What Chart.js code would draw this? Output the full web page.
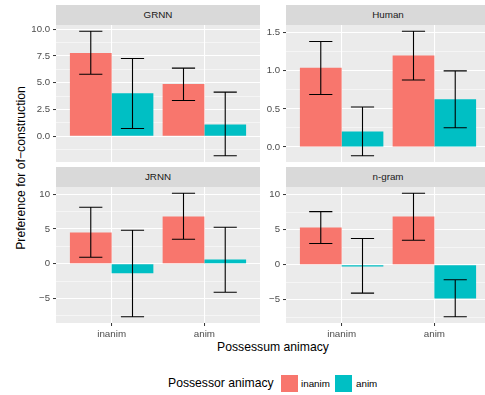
<!DOCTYPE html>
<html>
<head>
<meta charset="utf-8">
<script src="https://cdn.jsdelivr.net/npm/chart.js@4.4.1/dist/chart.umd.min.js"></script>
<style>
  html, body { margin: 0; padding: 0; background: #fff; }
  #fig { position: relative; width: 485px; height: 395px; overflow: hidden; font-family: "Liberation Sans", Arial, sans-serif; }
  #fig canvas { position: absolute; }
  .strip { position: absolute; height: 20px; background: #D9D9D9; color: #1A1A1A; font-size: 9.8px; line-height: 20px; text-align: center; }
  .title { position: absolute; font-size: 12.2px; color: #000; white-space: nowrap; }
  .key { position: absolute; width: 17px; height: 17px; }
  .klab { position: absolute; font-size: 9.8px; color: #000; line-height: 17px; }
</style>
</head>
<body>
<div id="fig">
  <div class="title" style="left:21px; top:168px; transform: translate(-50%,-50%) rotate(-90deg);">Preference for of−construction</div>
  <div class="title" style="left:273px; top:347px; transform: translate(-50%,-50%);">Possessum animacy</div>
  <div class="title" style="left:168px; top:383px; transform: translateY(-50%);">Possessor animacy</div>
  <div class="key" style="left:281px; top:375px; background:#F8766D;"></div>
  <div class="klab" style="left:301px; top:375px;">inanim</div>
  <div class="key" style="left:335px; top:375px; background:#00BFC4;"></div>
  <div class="klab" style="left:356px; top:375px;">anim</div>
</div>
<script>
'use strict';
// Facets (reading order) and the possessum categories on the x axis
const models = ['GRNN', 'Human', 'JRNN', 'n-gram'];
const possessum = ['inanim', 'anim'];
const possessor = ['inanim', 'anim'];
// Per facet: [possessum inanim, possessum anim]
const meanInanim = [[7.77, 4.88], [1.04, 1.20], [4.50, 6.80], [5.33, 6.90]];
const lowInanim  = [[5.79, 3.34], [0.69, 0.88], [0.95, 3.53], [3.04, 3.51]];
const highInanim = [[9.81, 6.36], [1.385, 1.52], [8.13, 10.15], [7.60, 10.23]];
const meanAnim   = [[4.03, 1.10], [0.203, 0.628], [-1.35, 0.62], [-0.24, -4.81]];
const lowAnim    = [[0.73, -1.82], [-0.115, 0.252], [-7.62, -4.08], [-4.05, -7.43]];
const highAnim   = [[7.26, 4.12], [0.526, 1.00], [4.83, 5.26], [3.76, -2.14]];
// y tick labels per facet
const yTicks = [[0, 2.5, 5, 7.5, 10], [0, 0.5, 1, 1.5], [-5, 0, 5, 10], [-5, 0, 5, 10]];
const yDecimals = [1, 1, 0, 0];

const colors = ['#F8766D', '#00BFC4'];
const fig = document.getElementById('fig');
const PAD = 6, YW = 30, XH = 20, PW = 204;
const panels = [
  {left: 56, top: 25, h: 137, bottom: false},
  {left: 286, top: 25, h: 137, bottom: false},
  {left: 56, top: 187, h: 136, bottom: true},
  {left: 286, top: 187, h: 136, bottom: true}
];

const panelBg = {
  id: 'panelBg',
  beforeDraw(chart) {
    const a = chart.chartArea, ctx = chart.ctx;
    ctx.save();
    ctx.fillStyle = '#EBEBEB';
    ctx.fillRect(a.left, a.top, a.right - a.left, a.bottom - a.top);
    ctx.restore();
  }
};

const errorBars = {
  id: 'errorBars',
  afterDatasetsDraw(chart) {
    const ctx = chart.ctx, xs = chart.scales.x, ys = chart.scales.y;
    const half = (xs.getPixelForValue(0.125) - xs.getPixelForValue(0));
    ctx.save();
    ctx.strokeStyle = '#000';
    ctx.lineWidth = 1.1;
    chart.data.datasets.forEach((ds, di) => {
      chart.getDatasetMeta(di).data.forEach((bar, i) => {
        const yl = ys.getPixelForValue(ds.low[i]);
        const yh = ys.getPixelForValue(ds.high[i]);
        ctx.beginPath();
        ctx.moveTo(bar.x, yl); ctx.lineTo(bar.x, yh);
        ctx.moveTo(bar.x - half, yl); ctx.lineTo(bar.x + half, yl);
        ctx.moveTo(bar.x - half, yh); ctx.lineTo(bar.x + half, yh);
        ctx.stroke();
      });
    });
    ctx.restore();
  }
};

function fmt(v, d) {
  const s = Math.abs(v).toFixed(d);
  return v < 0 ? '\u2212' + s : s;
}

models.forEach((name, k) => {
  const p = panels[k];
  const strip = document.createElement('div');
  strip.className = 'strip';
  strip.style.left = p.left + 'px';
  strip.style.top = (p.top - 20) + 'px';
  strip.style.width = PW + 'px';
  strip.textContent = name;
  fig.appendChild(strip);

  const canvas = document.createElement('canvas');
  const cw = YW + PW, ch = PAD + p.h + (p.bottom ? XH : 0);
  canvas.width = cw; canvas.height = ch;
  canvas.style.width = cw + 'px'; canvas.style.height = ch + 'px';
  canvas.style.left = (p.left - YW) + 'px';
  canvas.style.top = (p.top - PAD) + 'px';
  fig.appendChild(canvas);

  // y range like ggplot: data incl. zero, expanded by 5%
  const lows = lowInanim[k].concat(lowAnim[k], [0]);
  const highs = highInanim[k].concat(highAnim[k], [0]);
  const lo = Math.min(...lows), hi = Math.max(...highs);
  const ymin = lo - 0.05 * (hi - lo), ymax = hi + 0.05 * (hi - lo);
  const major = yTicks[k];
  const step = major[1] - major[0];
  const minor = [];
  for (let v = major[0] - step / 2; v <= ymax; v += step) if (v >= ymin) minor.push(v);
  const isMajor = v => major.some(m => Math.abs(m - v) < 1e-9);

  new Chart(canvas, {
    type: 'bar',
    data: {
      datasets: possessor.map((lab, j) => ({
        label: lab,
        data: possessum.map((c, i) => ({x: i + 1, y: (j ? meanAnim : meanInanim)[k][i]})),
        low: (j ? lowAnim : lowInanim)[k],
        high: (j ? highAnim : highInanim)[k],
        backgroundColor: colors[j],
        borderWidth: 0,
        categoryPercentage: 0.9,
        barPercentage: 1
      }))
    },
    options: {
      responsive: false,
      animation: false,
      events: [],
      layout: {padding: {top: PAD, left: 0, right: 0, bottom: 0}},
      plugins: {legend: {display: false}, tooltip: {enabled: false}},
      scales: {
        x: {
          type: 'linear',
          min: 0.4, max: 2.6,
          offset: false,
          afterBuildTicks: s => { s.ticks = possessum.map((c, i) => ({value: i + 1})); },
          afterFit: s => { s.height = p.bottom ? XH : 0; s.paddingLeft = 0; s.paddingRight = 0; },
          border: {display: false},
          grid: {offset: false, color: '#FFFFFF', lineWidth: 1.07, drawTicks: p.bottom, tickLength: 3, tickColor: '#333333', tickWidth: 1},
          ticks: {display: p.bottom, padding: 2, color: '#4D4D4D', font: {family: 'Liberation Sans', size: 9.8},
                  maxRotation: 0, autoSkip: false, callback: v => possessum[Math.round(v) - 1]}
        },
        y: {
          min: ymin, max: ymax,
          afterBuildTicks: s => { s.ticks = major.concat(minor).sort((a, b) => a - b).map(v => ({value: v})); },
          afterFit: s => { s.width = YW; s.paddingTop = 0; s.paddingBottom = 0; },
          border: {display: false},
          grid: {
            color: '#FFFFFF',
            lineWidth: c => isMajor(c.tick.value) ? 1.07 : 0.53,
            tickLength: 3,
            tickColor: c => isMajor(c.tick.value) ? '#333333' : 'rgba(0,0,0,0)',
            tickWidth: 1
          },
          ticks: {padding: 3, color: '#4D4D4D', font: {family: 'Liberation Sans', size: 9.6}, autoSkip: false,
                  callback: v => isMajor(v) ? fmt(v, yDecimals[k]) : ''}
        }
      }
    },
    plugins: [panelBg, errorBars]
  });
});
</script>
</body>
</html>
